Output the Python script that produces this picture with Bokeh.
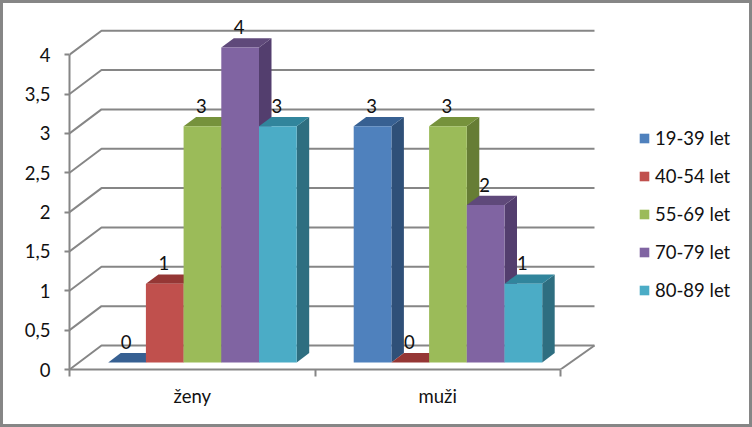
from bokeh.plotting import figure
from bokeh.embed import file_html
from bokeh.resources import INLINE
from bokeh.layouts import column
from bokeh.models import Range1d, LinearAxis, FixedTicker, Legend, LegendItem
from bokeh.core.properties import value

categories = ["ženy", "muži"]
series = ["19-39 let", "40-54 let", "55-69 let", "70-79 let", "80-89 let"]
values = {
    "19-39 let": [0, 3],
    "40-54 let": [1, 0],
    "55-69 let": [3, 3],
    "70-79 let": [4, 2],
    "80-89 let": [3, 1],
}
y_ticks = [0, 0.5, 1, 1.5, 2, 2.5, 3, 3.5, 4]
y_tick_labels = ["0", "0,5", "1", "1,5", "2", "2,5", "3", "3,5", "4"]

front = ["#4F81BD", "#C0504D", "#9BBB59", "#8064A2", "#4BACC6"]
top = ["#376092", "#953735", "#76923C", "#5F497A", "#31859C"]
side = ["#2F5078", "#7F2F2D", "#667D35", "#533E6E", "#2E6E80"]
GRID = "#868686"
FONT = "Lato"
FS = "18.5px"

EDGE = 3
W, H = 752 - 2 * EDGE, 427 - 2 * EDGE
LEFT, BOTTOM = 69 - EDGE, 58 - EDGE
UX = 245.5   # px per category
UY = 78.7    # px per value unit

p = figure(width=W, height=H, output_backend="svg", toolbar_location=None,
           x_range=Range1d(0, (W - LEFT) / UX), y_range=Range1d(0, (H - BOTTOM) / UY),
           min_border_left=LEFT, min_border_right=0, min_border_top=0, min_border_bottom=BOTTOM,
           x_axis_location=None, y_axis_location=None)
p.grid.visible = False
p.outline_line_color = None
p.background_fill_color = "white"
p.border_fill_color = "white"

# axes
yax = LinearAxis(ticker=FixedTicker(ticks=y_ticks), bounds=(0, 4),
                 major_label_overrides=dict(zip(y_ticks, y_tick_labels)))
yax.major_tick_in = 0
yax.major_tick_out = 5
yax.minor_tick_out = 0
yax.major_label_standoff = 14
yax.axis_line_color = GRID
yax.axis_line_width = 2
yax.major_tick_line_color = GRID
yax.major_tick_line_width = 2
yax.major_label_text_font = FONT
yax.major_label_text_font_size = FS
yax.major_label_text_color = "#111111"
p.add_layout(yax, "left")

xax = LinearAxis(ticker=FixedTicker(ticks=[0.5, 1.5], minor_ticks=[0, 1, 2]), bounds=(0, 2),
                 major_label_overrides={0.5: categories[0], 1.5: categories[1]})
xax.major_tick_in = 0
xax.major_tick_out = 0
xax.minor_tick_in = 0
xax.minor_tick_out = 7
xax.minor_tick_line_color = GRID
xax.minor_tick_line_width = 2
xax.major_label_standoff = 8
xax.axis_line_color = GRID
xax.axis_line_width = 2
xax.major_label_text_font = FONT
xax.major_label_text_font_size = FS
xax.major_label_text_color = "#111111"
p.add_layout(xax, "below")

# walls and floor
WX, WY = 32 / UX, 24 / UY       # wall depth
BACK_END = 525 / UX             # back wall right end
grid_xs = [[0, WX, BACK_END] for _ in y_ticks]
grid_ys = [[v, v + WY, v + WY] for v in y_ticks]
p.multi_line(grid_xs, grid_ys, line_color=GRID, line_width=2)
p.line([2, BACK_END], [0, WY], line_color=GRID, line_width=2)

# bars
DX, DY = 12.5 / UX, 9.3 / UY    # bar depth
BASE = 0.09
BAR = 37.7 / UX
GAP = 38.7 / UX

items = []
data_x, data_y, data_t = [], [], []
for i, name in enumerate(series):
    lefts = [c + GAP + i * BAR for c in range(len(categories))]
    rights = [l + BAR for l in lefts]
    tops = [v + BASE for v in values[name]]
    bots = [BASE] * len(tops)
    nz = [k for k, v in enumerate(values[name]) if v > 0]
    p.patches([[rights[k], rights[k], rights[k] + DX, rights[k] + DX] for k in nz],
              [[bots[k], tops[k], tops[k] + DY, bots[k] + DY] for k in nz],
              fill_color=side[i], line_color=None)
    p.patches([[lefts[k], rights[k], rights[k] + DX, lefts[k] + DX] for k in range(len(lefts))],
              [[tops[k], tops[k], tops[k] + DY, tops[k] + DY] for k in range(len(lefts))],
              fill_color=top[i], line_color=None)
    r = p.quad(left=[lefts[k] for k in nz], right=[rights[k] for k in nz],
               top=[tops[k] for k in nz], bottom=[bots[k] for k in nz],
               fill_color=front[i], line_color=None)
    items.append(LegendItem(label=name, renderers=[r]))
    for k in range(len(lefts)):
        data_x.append((lefts[k] + rights[k]) / 2)
        data_y.append(tops[k])
        data_t.append(str(values[name][k]))

p.text(x=data_x, y=data_y, text=data_t, text_align="center", text_baseline="middle",
       x_offset=-1, y_offset=-20.5, text_font=value(FONT), text_font_size=FS, text_color="#111111")

legend = Legend(items=items, location=(569, 68), orientation="vertical",
                glyph_width=12, glyph_height=12, label_standoff=5, spacing=16,
                label_height=21, label_text_font=FONT, label_text_font_size=FS,
                label_text_color="#111111", border_line_color=None, background_fill_alpha=0,
                padding=0, margin=0)
p.add_layout(legend)

page = column(p, width=752, height=427,
              styles={"border": f"{EDGE}px solid {GRID}"})

open("out.html", "w").write(file_html(page, INLINE))
